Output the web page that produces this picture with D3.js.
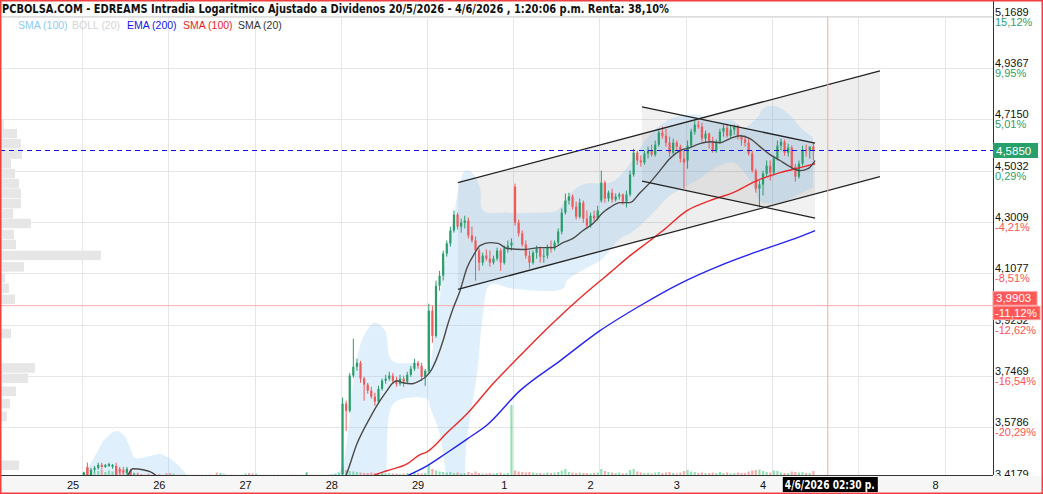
<!DOCTYPE html>
<html><head><meta charset="utf-8">
<script src="https://cdn.jsdelivr.net/npm/d3@7"></script>
<style>body{margin:0;background:#fff;} svg{display:block;}</style>
</head><body><svg id="c" width="1043" height="494"></svg>
<script>
// ---------- DATA ----------
const dayLabels = ["25","26","27","28","29","1","2","3","4","","8"];
const barsPerDay = 24;
// each bar: [open, high, low, close, volume(thousands)]
const day25 = [
[3.423,3.439,3.416,3.436,30],[3.454,3.467,3.423,3.429,70],[3.429,3.451,3.426,3.445,45],[3.445,3.457,3.436,3.451,25],
[3.451,3.467,3.445,3.460,40],[3.460,3.467,3.448,3.454,55],[3.454,3.463,3.451,3.460,30],[3.457,3.467,3.454,3.463,45],
[3.454,3.463,3.448,3.460,35],[3.457,3.467,3.423,3.429,60],[3.448,3.454,3.432,3.439,30],[3.445,3.454,3.432,3.439,40],
[3.436,3.454,3.432,3.448,50],[3.442,3.448,3.416,3.423,45],[3.423,3.436,3.411,3.429,20],[3.423,3.432,3.405,3.411,25],
[3.411,3.414,3.398,3.402,10],[3.402,3.409,3.394,3.399,3],[3.399,3.405,3.391,3.396,15],[3.396,3.401,3.387,3.391,3],
[3.391,3.398,3.386,3.394,3],[3.394,3.399,3.383,3.388,10],[3.388,3.395,3.381,3.390,3],[3.390,3.396,3.380,3.385,20]];
const day26 = [
[3.385,3.392,3.376,3.380,20],[3.380,3.388,3.372,3.384,15],[3.384,3.390,3.378,3.382,3],[3.382,3.386,3.374,3.377,3],
[3.377,3.383,3.371,3.380,3],[3.380,3.387,3.375,3.383,3],[3.383,3.389,3.378,3.381,3],[3.381,3.385,3.373,3.376,3],
[3.376,3.382,3.370,3.379,3],[3.379,3.386,3.374,3.382,3],[3.382,3.390,3.377,3.386,3],[3.386,3.392,3.380,3.383,3],
[3.383,3.388,3.376,3.378,3],[3.378,3.384,3.368,3.372,25],[3.372,3.380,3.366,3.377,20],[3.377,3.383,3.371,3.379,3],
[3.379,3.385,3.374,3.381,3],[3.381,3.387,3.376,3.378,3],[3.378,3.383,3.372,3.375,3],[3.375,3.381,3.369,3.377,3],
[3.377,3.384,3.372,3.380,3],[3.380,3.388,3.375,3.384,15],[3.384,3.391,3.378,3.381,20],[3.381,3.386,3.374,3.378,15]];
const day27 = [
[3.378,3.385,3.372,3.382,15],[3.382,3.388,3.376,3.385,3],[3.385,3.391,3.380,3.383,3],[3.383,3.389,3.377,3.387,3],
[3.387,3.393,3.381,3.384,3],[3.384,3.390,3.378,3.388,3],[3.388,3.395,3.383,3.391,3],[3.391,3.397,3.385,3.389,3],
[3.389,3.395,3.383,3.392,3],[3.392,3.398,3.386,3.390,3],[3.390,3.396,3.384,3.393,3],[3.393,3.399,3.387,3.391,3],
[3.391,3.397,3.385,3.394,3],[3.394,3.400,3.388,3.395,3],[3.395,3.434,3.390,3.429,30],[3.402,3.406,3.392,3.398,3],
[3.398,3.404,3.392,3.401,3],[3.401,3.407,3.395,3.399,3],[3.399,3.405,3.393,3.402,3],[3.402,3.408,3.396,3.404,3],
[3.404,3.410,3.398,3.403,3],[3.403,3.409,3.397,3.406,3],[3.406,3.412,3.400,3.408,10],[3.408,3.414,3.402,3.411,25]];
const day28 = [
[3.432,3.675,3.426,3.655,80],[3.655,3.665,3.567,3.632,50],[3.632,3.757,3.626,3.748,40],[3.748,3.874,3.741,3.778,35],
[3.778,3.805,3.764,3.791,30],[3.791,3.798,3.724,3.738,25],[3.738,3.744,3.665,3.718,20],[3.718,3.724,3.688,3.698,20],
[3.698,3.711,3.671,3.678,25],[3.678,3.691,3.648,3.662,20],[3.662,3.714,3.655,3.704,15],[3.704,3.738,3.698,3.731,20],
[3.731,3.751,3.721,3.738,15],[3.738,3.761,3.731,3.748,20],[3.748,3.757,3.721,3.731,15],[3.731,3.744,3.711,3.721,15],
[3.721,3.751,3.714,3.738,10],[3.738,3.748,3.711,3.728,15],[3.728,3.761,3.721,3.751,20],[3.751,3.781,3.744,3.771,15],
[3.771,3.805,3.764,3.791,25],[3.791,3.798,3.771,3.781,20],[3.781,3.791,3.731,3.744,15],[3.744,3.771,3.714,3.764,20]];
const day29 = [
[3.764,3.997,3.757,3.972,100],[3.972,3.990,3.860,3.884,60],[3.884,4.081,3.877,4.062,45],[4.062,4.117,4.044,4.099,35],
[4.099,4.192,4.081,4.181,30],[4.181,4.230,4.169,4.219,25],[4.219,4.283,4.207,4.268,30],[4.268,4.345,4.260,4.329,20],
[4.329,4.337,4.272,4.283,25],[4.283,4.314,4.260,4.298,15],[4.298,4.325,4.276,4.306,20],[4.306,4.318,4.238,4.249,30],
[4.249,4.283,4.222,4.230,20],[4.230,4.245,4.081,4.192,35],[4.192,4.200,4.117,4.147,20],[4.147,4.184,4.136,4.173,15],
[4.173,4.196,4.154,4.162,15],[4.162,4.192,4.132,4.147,20],[4.147,4.173,4.140,4.162,15],[4.162,4.203,4.154,4.192,20],
[4.192,4.200,4.117,4.147,25],[4.147,4.211,4.140,4.200,15],[4.200,4.230,4.184,4.211,20],[4.211,4.238,4.192,4.222,700]];
const day1 = [
[4.439,4.451,4.287,4.298,45],[4.298,4.310,4.245,4.257,35],[4.257,4.268,4.207,4.215,30],[4.215,4.230,4.162,4.173,25],
[4.173,4.192,4.125,4.147,30],[4.147,4.192,4.140,4.184,25],[4.184,4.211,4.162,4.200,20],[4.200,4.207,4.147,4.169,20],
[4.169,4.200,4.147,4.173,15],[4.173,4.215,4.162,4.207,25],[4.207,4.230,4.184,4.200,20],[4.200,4.230,4.192,4.222,25],
[4.222,4.276,4.211,4.264,30],[4.264,4.353,4.253,4.337,45],[4.337,4.412,4.329,4.384,60],[4.384,4.415,4.368,4.400,30],
[4.400,4.408,4.349,4.360,25],[4.360,4.380,4.310,4.321,20],[4.321,4.392,4.314,4.376,25],[4.376,4.384,4.298,4.314,20],
[4.314,4.345,4.276,4.287,20],[4.287,4.337,4.279,4.325,15],[4.325,4.345,4.298,4.314,20],[4.314,4.364,4.306,4.345,25]];
const day2 = [
[4.384,4.503,4.376,4.455,60],[4.455,4.463,4.376,4.392,40],[4.392,4.423,4.380,4.415,30],[4.415,4.431,4.376,4.388,25],
[4.388,4.412,4.380,4.400,20],[4.400,4.415,4.388,4.408,25],[4.408,4.412,4.368,4.380,15],[4.380,4.423,4.357,4.408,20],
[4.408,4.503,4.400,4.487,50],[4.487,4.592,4.479,4.576,60],[4.576,4.584,4.527,4.544,35],[4.544,4.564,4.519,4.536,25],
[4.536,4.584,4.527,4.572,20],[4.572,4.601,4.552,4.584,20],[4.584,4.609,4.560,4.568,15],[4.568,4.626,4.560,4.609,25],
[4.609,4.675,4.601,4.659,30],[4.659,4.684,4.634,4.646,20],[4.646,4.675,4.601,4.617,25],[4.617,4.642,4.560,4.576,30],
[4.576,4.634,4.568,4.617,20],[4.617,4.626,4.584,4.601,15],[4.601,4.609,4.536,4.552,25],[4.552,4.584,4.431,4.536,40]];
const day3 = [
[4.544,4.626,4.511,4.605,50],[4.605,4.675,4.597,4.663,35],[4.663,4.709,4.650,4.692,30],[4.692,4.709,4.675,4.684,20],
[4.684,4.700,4.621,4.634,25],[4.634,4.667,4.617,4.655,20],[4.655,4.659,4.592,4.626,20],[4.626,4.642,4.576,4.584,25],
[4.584,4.630,4.576,4.621,20],[4.621,4.675,4.613,4.663,30],[4.663,4.692,4.642,4.679,20],[4.679,4.696,4.638,4.646,25],
[4.646,4.688,4.638,4.671,15],[4.671,4.692,4.650,4.684,20],[4.684,4.692,4.630,4.642,25],[4.642,4.650,4.605,4.630,20],
[4.630,4.646,4.601,4.617,20],[4.617,4.634,4.564,4.572,35],[4.572,4.584,4.495,4.503,45],[4.503,4.511,4.415,4.431,50],
[4.431,4.463,4.357,4.447,55],[4.447,4.503,4.404,4.491,40],[4.491,4.544,4.479,4.523,30],[4.523,4.544,4.463,4.495,25]];
const day4 = [
[4.495,4.564,4.483,4.552,45],[4.552,4.626,4.544,4.605,40],[4.605,4.634,4.584,4.621,25],[4.621,4.630,4.564,4.576,20],
[4.576,4.613,4.560,4.597,20],[4.597,4.605,4.503,4.519,35],[4.519,4.531,4.459,4.479,30],[4.479,4.544,4.471,4.531,25],
[4.531,4.605,4.523,4.588,30],[4.588,4.609,4.560,4.584,20],[4.584,4.601,4.552,4.601,20],[4.601,4.617,4.544,4.585,40]];
const sessions = [day25, day26, day27, day28, day29, day1, day2, day3, day4];

// indicators: [time (session index + fraction), price]
const sma20 = [[0.383,3.396],[0.522,3.426],[0.591,3.448],[0.707,3.445],[0.788,3.439],[0.870,3.426],[1.020,3.396],[1.948,3.366],[2.875,3.366],[3.049,3.420],[3.188,3.526],[3.339,3.609],[3.455,3.665],[3.536,3.698],[3.594,3.721],[3.652,3.731],[3.722,3.724],[3.826,3.721],[3.919,3.731],[4.000,3.748],[4.058,3.771],[4.116,3.808],[4.186,3.867],[4.243,3.926],[4.301,3.979],[4.383,4.044],[4.464,4.128],[4.557,4.184],[4.614,4.211],[4.730,4.222],[4.823,4.219],[4.928,4.200],[5.113,4.196],[5.310,4.203],[5.461,4.203],[5.577,4.222],[5.693,4.238],[5.809,4.268],[5.925,4.295],[6.041,4.337],[6.122,4.357],[6.238,4.376],[6.354,4.376],[6.470,4.415],[6.586,4.455],[6.701,4.503],[6.817,4.552],[6.933,4.584],[7.049,4.597],[7.165,4.613],[7.281,4.621],[7.397,4.617],[7.513,4.634],[7.629,4.646],[7.745,4.634],[7.861,4.601],[7.977,4.568],[8.093,4.544],[8.209,4.519],[8.325,4.503],[8.417,4.511],[8.499,4.544]];
const sma100 = [[3.281,3.411],[3.374,3.426],[3.536,3.442],[3.768,3.463],[3.919,3.492],[4.000,3.501],[4.232,3.561],[4.464,3.622],[4.765,3.721],[5.078,3.815],[5.426,3.919],[5.739,4.008],[5.971,4.070],[6.122,4.110],[6.354,4.173],[6.586,4.230],[6.736,4.268],[7.014,4.345],[7.281,4.384],[7.548,4.415],[7.826,4.463],[8.093,4.495],[8.325,4.515],[8.499,4.531]];
const ema200 = [[3.687,3.417],[4.000,3.457],[4.232,3.498],[4.464,3.541],[4.696,3.586],[5.078,3.698],[5.542,3.798],[6.006,3.902],[6.470,3.990],[6.933,4.070],[7.397,4.136],[7.861,4.192],[8.325,4.245],[8.499,4.268]];
const bollUpper = [[0,3.417],[0.151,3.488],[0.267,3.541],[0.406,3.567],[0.499,3.548],[0.557,3.513],[0.615,3.482],[0.788,3.488],[0.904,3.494],[1.020,3.479],[1.101,3.463],[1.194,3.436],[1.310,3.405],[1.484,3.396],[1.635,3.436],[1.774,3.405],[2.759,3.405],[2.875,3.432],[2.991,3.442],[3.072,3.535],[3.142,3.721],[3.258,3.877],[3.397,3.930],[3.513,3.902],[3.571,3.808],[3.652,3.791],[3.884,3.788],[4.000,3.764],[4.093,3.902],[4.209,4.154],[4.301,4.306],[4.383,4.455],[4.441,4.503],[4.522,4.495],[4.614,4.435],[4.649,4.345],[4.928,4.337],[5.310,4.337],[5.507,4.345],[5.623,4.396],[5.739,4.435],[5.855,4.451],[6.122,4.455],[6.273,4.495],[6.504,4.613],[6.667,4.679],[6.783,4.709],[6.933,4.730],[7.165,4.734],[7.281,4.709],[7.548,4.709],[7.664,4.679],[7.826,4.721],[7.896,4.760],[8.012,4.772],[8.174,4.743],[8.325,4.684],[8.475,4.638]];
const bollLower = [[0,3.400],[0.406,3.330],[0.904,3.350],[1.774,3.360],[2.759,3.370],[2.991,3.360],[3.142,3.300],[3.397,3.280],[3.513,3.380],[3.571,3.632],[3.652,3.665],[4.000,3.671],[4.035,3.645],[4.151,3.554],[4.209,3.451],[4.267,3.350],[4.383,3.330],[4.464,3.545],[4.580,3.754],[4.649,3.959],[4.730,4.066],[4.997,4.051],[5.577,4.051],[5.623,4.081],[5.855,4.128],[6.006,4.154],[6.122,4.192],[6.238,4.238],[6.354,4.257],[6.470,4.287],[6.586,4.325],[6.701,4.364],[6.817,4.404],[7.014,4.443],[7.165,4.471],[7.281,4.503],[7.548,4.536],[7.664,4.503],[7.780,4.443],[7.861,4.384],[8.012,4.372],[8.174,4.384],[8.325,4.412],[8.475,4.435]];

// drawn channels: [[t0,p0],[t1,p1]]
const ascUpper = [[4.359,4.455],[9.252,4.924]];
const ascLower = [[4.359,4.049],[9.252,4.479]];
const descUpper = [[6.493,4.768],[8.499,4.615]];
const descLower = [[6.493,4.461],[8.499,4.316]];

// price axis
const tickPrices = [5.1689,4.9367,4.7150,4.5032,4.3009,4.1077,3.9232,3.7469,3.5786,3.4179];
const tickPct = ["15,12%","9,95%","5,01%","0,29%","-4,21%","-8,51%","-12,62%","-16,54%","-20,29%","-23,88%"];
const lastPrice = 4.5850;
const alertPrice = 3.9903, alertPct = "-11,12%";
const cursorTime = 8 + 5.5/8.5, cursorLabel = "4/6/2026 02:30 p.";

// volume profile (left)
const profilePrices = [4.694,4.655,4.613,4.570,4.531,4.491,4.451,4.412,4.372,4.333,4.295,4.253,4.215,4.174,4.131,4.091,4.053,4.013,3.892,3.774,3.739,3.696,3.655,3.614,3.459];
const profileVols = [30,160,200,210,100,140,180,200,200,120,300,130,150,1000,230,40,80,140,100,340,270,150,90,60,180];

const titleText = "PCBOLSA.COM - EDREAMS Intradia Logaritmico Ajustado a Dividenos 20/5/2026 - 4/6/2026 , 1:20:06 p.m. Renta: 38,10%";
const legendItems = [["SMA (100)","#8ccaf2"],["BOLL (20)","#d4d4d4"],["EMA (200)","#1515ee"],["SMA (100)","#ee1c1c"],["SMA (20)","#333333"]];

// ---------- DRAW ----------
const svg = d3.select("#c");
const plotR = 993, plotT = 17, plotB = 475;
const x = d3.scaleLinear().domain([0,10]).range([82,944.5]);
const y = d3.scaleLog().domain([3.4179,5.1689]).range([478.6,16.6]);
const vScale = d3.scaleLinear().domain([0,1000]).range([0,100]);
const pScale = d3.scaleLinear().domain([0,1000]).range([0,100]);
const fmt = v => v.toFixed(4).replace(".", ",");

svg.append("rect").attr("width",1043).attr("height",494).attr("fill","#fff");
const defs = svg.append("defs");
defs.append("clipPath").attr("id","plot").append("rect").attr("x",0).attr("y",plotT).attr("width",plotR).attr("height",plotB-plotT);

const g = svg.append("g").attr("clip-path","url(#plot)");

// grid
g.selectAll(".hg").data(tickPrices).enter().append("line")
  .attr("x1",0).attr("x2",plotR).attr("y1",d=>Math.round(y(d))+0.5).attr("y2",d=>Math.round(y(d))+0.5)
  .attr("stroke","#e6e6e6");
g.selectAll(".vg").data(d3.range(0,11)).enter().append("line")
  .attr("x1",d=>Math.round(x(d))+0.5).attr("x2",d=>Math.round(x(d))+0.5).attr("y1",plotT).attr("y2",plotB)
  .attr("stroke","#e6e6e6");

// volume profile
const binH = 9.5;
g.selectAll(".vp").data(profilePrices).enter().append("rect")
  .attr("x",1).attr("y",d=>y(d)-binH/2).attr("height",binH)
  .attr("width",(d,i)=>pScale(profileVols[i])).attr("fill","#e6e6e6");

// channels shading
function poly(a,b){
  const pts=[a[0],a[1],b[1],b[0]].map(p=>[x(p[0]),y(p[1])]);
  return "M"+pts.join("L")+"Z";
}
g.append("path").attr("d",poly(ascUpper,ascLower)).attr("fill","rgba(0,0,0,0.065)");
g.append("path").attr("d",poly(descUpper,descLower)).attr("fill","rgba(0,0,0,0.055)");

// bollinger band
const cr = d3.line().curve(d3.curveCatmullRom.alpha(0.5));
const up = bollUpper.map(p=>[x(p[0]),y(p[1])]);
const lo = bollLower.map(p=>[x(p[0]),y(p[1])]).reverse();
g.append("path").attr("d", cr(up)+"L"+cr(lo).slice(1)+"Z").attr("fill","rgba(135,195,240,0.27)");

// alert line
g.append("line").attr("x1",0).attr("x2",plotR).attr("y1",y(alertPrice)).attr("y2",y(alertPrice))
  .attr("stroke","#ffaaaa").attr("stroke-width",1);

// bars
const bars = sessions.flatMap((rows,d)=>rows.map((r,i)=>({t:d+(i+0.5)/barsPerDay,o:r[0],h:r[1],l:r[2],c:r[3],v:r[4]})));
const GREEN="#2a9d6c", RED="#f05a5a";
g.selectAll(".vol").data(bars).enter().append("rect")
  .attr("x",d=>x(d.t)-1.1).attr("width",2.2)
  .attr("y",d=>plotB-vScale(d.v)).attr("height",d=>vScale(d.v))
  .attr("fill",d=>d.c>=d.o?"rgba(60,200,120,0.55)":"rgba(245,100,100,0.55)");
g.selectAll(".wick").data(bars).enter().append("line")
  .attr("x1",d=>x(d.t)).attr("x2",d=>x(d.t)).attr("y1",d=>y(d.h)).attr("y2",d=>y(d.l))
  .attr("stroke",d=>d.c>=d.o?GREEN:RED).attr("stroke-width",1);
g.selectAll(".body").data(bars).enter().append("rect")
  .attr("x",d=>x(d.t)-1.1).attr("width",2.2)
  .attr("y",d=>Math.min(y(d.o),y(d.c)))
  .attr("height",d=>Math.max(1,Math.abs(y(d.o)-y(d.c))))
  .attr("fill",d=>d.c>=d.o?GREEN:RED);

// indicator lines
const ln = d3.line().x(p=>x(p[0])).y(p=>y(p[1])).curve(d3.curveMonotoneX);
g.append("path").attr("d",ln(ema200)).attr("fill","none").attr("stroke","#2424f0").attr("stroke-width",1.4);
g.append("path").attr("d",ln(sma100)).attr("fill","none").attr("stroke","#ea2a2a").attr("stroke-width",1.4);
g.append("path").attr("d",ln(sma20)).attr("fill","none").attr("stroke","#4a4a4a").attr("stroke-width",1.4);

// channel lines
[ascUpper,ascLower,descUpper,descLower].forEach(c=>{
  g.append("line").attr("x1",x(c[0][0])).attr("y1",y(c[0][1])).attr("x2",x(c[1][0])).attr("y2",y(c[1][1]))
   .attr("stroke","#222").attr("stroke-width",1.3);
});

// last price dashed line
g.append("line").attr("x1",0).attr("x2",plotR).attr("y1",y(lastPrice)).attr("y2",y(lastPrice))
  .attr("stroke","#1010ee").attr("stroke-width",1.1).attr("stroke-dasharray","5,4");

// cursor
svg.append("line").attr("x1",x(cursorTime)).attr("x2",x(cursorTime)).attr("y1",0).attr("y2",plotB)
  .attr("stroke","#f2a7a7").attr("stroke-width",1);

// right axis
svg.append("line").attr("x1",plotR+0.5).attr("x2",plotR+0.5).attr("y1",0).attr("y2",plotB).attr("stroke","#333");
const axisFont = "'Liberation Sans', Arial, sans-serif";
tickPrices.forEach((p,i)=>{
  const yy = y(p);
  svg.append("text").attr("x",995).attr("y",yy-1).text(fmt(p))
    .attr("font-family",axisFont).attr("font-size",11).attr("fill","#111");
  svg.append("text").attr("x",995).attr("y",yy+9).text(tickPct[i])
    .attr("font-family",axisFont).attr("font-size",11).attr("fill",i<4?"#2e9d6b":"#ff5252");
});
// last price box
const ly = y(lastPrice);
svg.append("rect").attr("x",993).attr("y",ly-7.5).attr("width",45).attr("height",15).attr("fill","#28a06c");
svg.append("text").attr("x",996).attr("y",ly+4.5).text(fmt(lastPrice))
  .attr("font-family",axisFont).attr("font-size",11.5).attr("fill","#fff");
// alert boxes
const ay = y(alertPrice);
svg.append("rect").attr("x",993).attr("y",ay-14).attr("width",44).attr("height",13.5).attr("fill","#ff5757").attr("stroke","#ff9a9a");
svg.append("text").attr("x",996).attr("y",ay-3.5).text(fmt(alertPrice))
  .attr("font-family",axisFont).attr("font-size",11.5).attr("fill","#fff");
svg.append("rect").attr("x",993).attr("y",ay+0.5).attr("width",47).attr("height",13.5).attr("fill","#ff5757").attr("stroke","#ff9a9a");
svg.append("text").attr("x",995).attr("y",ay+11.5).text(alertPct)
  .attr("font-family",axisFont).attr("font-size",11.5).attr("fill","#fff");

// bottom axis area
svg.append("rect").attr("x",0).attr("y",plotB+1).attr("width",1043).attr("height",494-plotB-1).attr("fill","#f6f6f6");
svg.append("line").attr("x1",0).attr("x2",plotR).attr("y1",plotB+0.5).attr("y2",plotB+0.5).attr("stroke","#333");
dayLabels.forEach((lab,i)=>{
  if(!lab) return;
  svg.append("text").attr("x",x(i)-9).attr("y",489).text(lab).attr("text-anchor","middle")
    .attr("font-family",axisFont).attr("font-size",11).attr("fill","#111");
});
// cursor label
const cx = x(cursorTime);
svg.append("rect").attr("x",cx-45).attr("y",477).attr("width",95).attr("height",15).attr("fill","#000");
svg.append("text").attr("x",cx-43).attr("y",489).text(cursorLabel)
  .attr("font-family","'Liberation Sans Narrow', 'Arial Narrow', 'DejaVu Sans Condensed', sans-serif").attr("font-weight","bold")
  .attr("font-size",11.5).attr("fill","#fff")
  .attr("textLength",90).attr("lengthAdjust","spacingAndGlyphs");

// title bar
svg.append("rect").attr("x",0).attr("y",0).attr("width",plotR).attr("height",16).attr("fill","#fff");
svg.append("line").attr("x1",0).attr("x2",plotR).attr("y1",16.5).attr("y2",16.5).attr("stroke","#ddd");
svg.append("text").attr("x",2).attr("y",13).text(titleText)
  .attr("font-family","'Liberation Sans Narrow', 'Arial Narrow', 'DejaVu Sans Condensed', sans-serif")
  .attr("font-weight","bold").attr("font-size",13).attr("fill","#111")
  .attr("textLength",667).attr("lengthAdjust","spacingAndGlyphs");

// legend
const legX = [18,72,127,183,238];
legendItems.forEach((it,i)=>{
  svg.append("text").attr("x",legX[i]).attr("y",28.5).text(it[0])
    .attr("font-family",axisFont).attr("font-size",10.5).attr("fill",it[1]);
});

// frame
svg.append("rect").attr("x",0.75).attr("y",0.75).attr("width",1041.5).attr("height",492.5)
  .attr("fill","none").attr("stroke","#f04040").attr("stroke-width",1.5);
</script>
</body></html>
